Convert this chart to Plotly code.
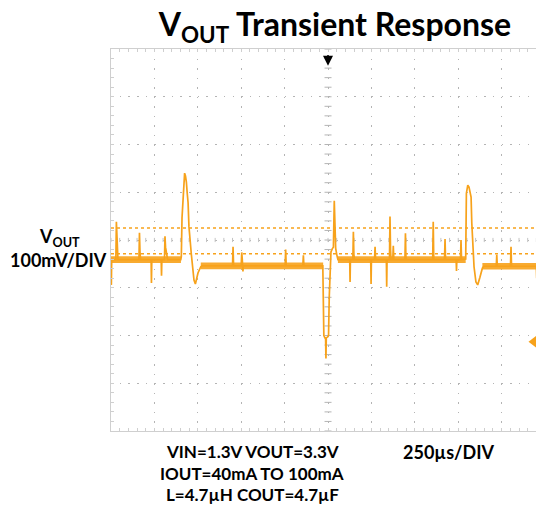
import numpy as np
import plotly.graph_objects as go

# ---------------- data ----------------
# time in microseconds (250 us / div), voltage deviation in mV (100 mV / div)
vout_t = [0, 2, 4,
          28, 31, 33, 36, 40,
          161, 164, 167, 170,
          231, 233, 235,
          289, 291, 293,
          308, 311, 314, 320, 326,
          402, 405, 409, 416, 420, 424, 429, 434, 439, 444, 449, 455, 463, 478, 486, 501, 517, 525,
          700, 703, 706,
          750, 753, 756, 758, 760, 762,
          1003, 1006, 1009,
          1105, 1108, 1111,
          1220, 1226, 1232, 1236, 1238, 1240, 1248, 1253, 1257, 1262, 1267, 1275, 1281, 1286, 1290, 1294, 1300, 1307,
          1375, 1377, 1379,
          1393, 1396, 1399, 1402,
          1496, 1498, 1500,
          1518, 1521, 1524,
          1586, 1588, 1590,
          1604, 1607, 1610, 1613,
          1623, 1626, 1629,
          1693, 1696, 1699,
          1853, 1856, 1859,
          1921, 1924, 1927,
          1988, 1990, 1992,
          2013, 2016, 2019,
          2040, 2043, 2047, 2055, 2062, 2068, 2074, 2078, 2083, 2091, 2102, 2112, 2125, 2139, 2147,
          2219, 2222, 2225,
          2301, 2304, 2307,
          2450, 2452, 2454,
          2474, 2477, 2480, 2494]
vout_mv = [-55, -94, -41,
           -41, 38, 15, -35, -41,
           -41, 15, -25, -41,
           -41, -90, -41,
           -41, -75, -41,
           -41, 8, -15, -28, -41,
           -41, -35, 46, 98, 136, 140, 134, 122, 98, 78, 28, 0, -31, -84, -92, -69, -56, -54,
           -54, -14, -54,
           -54, -26, -40, -54, -66, -54,
           -54, -20, -54,
           -54, -32, -54,
           -54, -200, -205, -205, -248, -205, -203, -200, -120, -60, -25, -18, -15, 82, 0, -17, -30, -41,
           -41, -88, -41,
           -41, 17, -30, -41,
           -41, -92, -41,
           -41, -14, -41,
           -41, -98, -41,
           -41, 49, -20, -41,
           -41, -12, -41,
           -41, 14, -41,
           -41, 38, -41,
           -41, 2, -41,
           -41, -65, -41,
           -41, 0, -41,
           -41, -40, 98, 115, 111, 100, 90, 36, -15, -56, -88, -94, -78, -59, -55,
           -55, -31, -55,
           -55, -14, -55,
           -55, -80, -55,
           -55, -14, -40, -50]

# noise band of the flat parts of the trace
band_start = [0, 517, 1307, 2139]
band_end = [403, 1222, 2043, 2494]
band_lo = [-48, -61, -48, -62]
band_hi = [-34, -47, -34, -48]

# cursor levels (mV)
cursor_levels = [25, -29]

# channel reference (ground) marker on the right edge, mV
ground_marker_mv = -213

x_divs = 10
y_divs = 8
time_per_div = 250
mv_per_div = 100

title_text = "<b>V<sub>OUT</sub> Transient Response</b>"
left_label_1 = "<b>V<sub>OUT</sub></b>"
left_label_2 = "<b>100mV/DIV</b>"
cond_lines = ["<b>VIN=1.3V VOUT=3.3V</b>", "<b>IOUT=40mA TO 100mA</b>", "<b>L=4.7µH COUT=4.7µF</b>"]
time_label = "<b>250µs/DIV</b>"

# ---------------- styling ----------------
ORANGE = "#F7A21B"
BAND = "rgba(247,162,27,0.9)"
GRID = "#b4b4b4"
FRAME = "#cfcfcf"
FONT = "Lato, Open Sans, sans-serif"

x_max = 2494
y_min, y_max = -y_divs / 2 * mv_per_div, y_divs / 2 * mv_per_div

# the page body has an 8px margin on every side: compensate so the frame lands where the
# reference has it and the page does not overflow the window
OFF = 8
W, H = 544 - OFF, 514 - 2 * OFF
PL, PT, PB = 111, 49, 431          # plot frame in page pixels
ml, mr, mt = PL - OFF, 0, PT - OFF
mb = H - (PB - OFF)
plot_w = W - ml - mr
plot_h = H - mt - mb
x_minor_px = plot_w / (x_max / (time_per_div / 5))
y_minor_px = plot_h / (y_divs * 5)
us_per_px = x_max / plot_w

fig = go.Figure()

# noise band
for s, e, lo, hi in zip(band_start, band_end, band_lo, band_hi):
    fig.add_trace(go.Scatter(x=[s, e, e, s, s], y=[lo, lo, hi, hi, lo], mode="lines",
                             fill="toself", fillcolor=BAND, line=dict(width=0),
                             hoverinfo="skip", showlegend=False))

# center cross tick marks
minor_t = np.arange(0, x_max + 1, time_per_div / 5)
minor_v = np.arange(y_min, y_max + 1, mv_per_div / 5)
fig.add_trace(go.Scatter(x=[x_divs / 2 * time_per_div] * len(minor_v), y=minor_v, mode="markers",
                         marker=dict(symbol="line-ew", size=5, line=dict(width=1, color=GRID)),
                         hoverinfo="skip", showlegend=False))
fig.add_trace(go.Scatter(x=minor_t, y=[0] * len(minor_t), mode="markers",
                         marker=dict(symbol="line-ns", size=3, line=dict(width=1, color="#c4c4c4")),
                         hoverinfo="skip", showlegend=False))

# cursors
for lv in cursor_levels:
    fig.add_shape(type="line", xref="x", yref="y", x0=0, x1=x_max, y0=lv, y1=lv,
                  line=dict(color=ORANGE, width=1.5, dash="dot"))

# waveform
fig.add_trace(go.Scatter(x=vout_t, y=vout_mv, mode="lines",
                         line=dict(color=ORANGE, width=1.7), hoverinfo="skip", showlegend=False))

# ground reference marker: short shaft + left-pointing head near the right edge
head_t = x_max - 12 * us_per_px
tail_t = x_max - 3 * us_per_px
fig.add_shape(type="line", xref="x", yref="y", x0=head_t + 3 * us_per_px, x1=tail_t,
              y0=ground_marker_mv, y1=ground_marker_mv, line=dict(color=ORANGE, width=3))
fig.add_trace(go.Scatter(x=[head_t + 2 * us_per_px], y=[ground_marker_mv], mode="markers",
                         marker=dict(symbol="triangle-left", size=11, color=ORANGE, line=dict(width=0)),
                         cliponaxis=False, hoverinfo="skip", showlegend=False))

fig.update_layout(
    width=W, height=H,
    margin=dict(l=ml, r=mr, t=mt, b=mb, pad=0),
    plot_bgcolor="white", paper_bgcolor="white",
    showlegend=False,
    title=dict(text=title_text, x=(335 - OFF) / W, y=1 - (25 - OFF) / H, xanchor="center", yanchor="middle",
               font=dict(family=FONT, size=32, color="black")),
    xaxis=dict(range=[0, x_max], tick0=0, dtick=time_per_div, showticklabels=False,
               showgrid=True, gridcolor=GRID, gridwidth=1,
               griddash=f"1.5px,{y_minor_px - 1.5:.2f}px",
               zeroline=False, showline=True, linecolor=FRAME, linewidth=1, mirror="allticks",
               ticks="inside", ticklen=3, tickcolor=FRAME,
               minor=dict(dtick=time_per_div / 5, ticks="inside", ticklen=3, tickcolor=FRAME, showgrid=False)),
    yaxis=dict(range=[y_min, y_max], tick0=y_min, dtick=mv_per_div, showticklabels=False,
               showgrid=True, gridcolor=GRID, gridwidth=1,
               griddash=f"1.5px,{x_minor_px - 1.5:.2f}px",
               zeroline=False, showline=True, linecolor=FRAME, linewidth=1, mirror=False,
               ticks="inside", ticklen=3, tickcolor=FRAME,
               minor=dict(dtick=mv_per_div / 5, ticks="inside", ticklen=3, tickcolor=FRAME, showgrid=False)),
)

def px_x(px):
    return (px - PL) / plot_w

def px_y(py):
    return (PB - py) / plot_h

ann_font = dict(family=FONT, size=18, color="black")
cond_font = dict(family=FONT, size=17, color="black")
fig.add_annotation(text=left_label_1, xref="paper", yref="paper", x=px_x(59), y=px_y(237),
                   xanchor="center", yanchor="middle", showarrow=False, font=ann_font)
fig.add_annotation(text=left_label_2, xref="paper", yref="paper", x=px_x(58), y=px_y(260),
                   xanchor="center", yanchor="middle", showarrow=False, font=ann_font)
for i, line in enumerate(cond_lines):
    fig.add_annotation(text=line, xref="paper", yref="paper", x=px_x(252), y=px_y(451.5 + 21.7 * i),
                       xanchor="center", yanchor="middle", showarrow=False, font=cond_font)
fig.add_annotation(text=time_label, xref="paper", yref="paper", x=px_x(448.5), y=px_y(451.5),
                   xanchor="center", yanchor="middle", showarrow=False, font=ann_font)

# trigger marker (top)
fig.add_annotation(x=x_divs / 2 * time_per_div, y=365, xref="x", yref="y", text="",
                   showarrow=True, arrowhead=2, arrowsize=1, arrowwidth=2, arrowcolor="black",
                   ax=0, ay=-12)

fig.write_html("out.html")
